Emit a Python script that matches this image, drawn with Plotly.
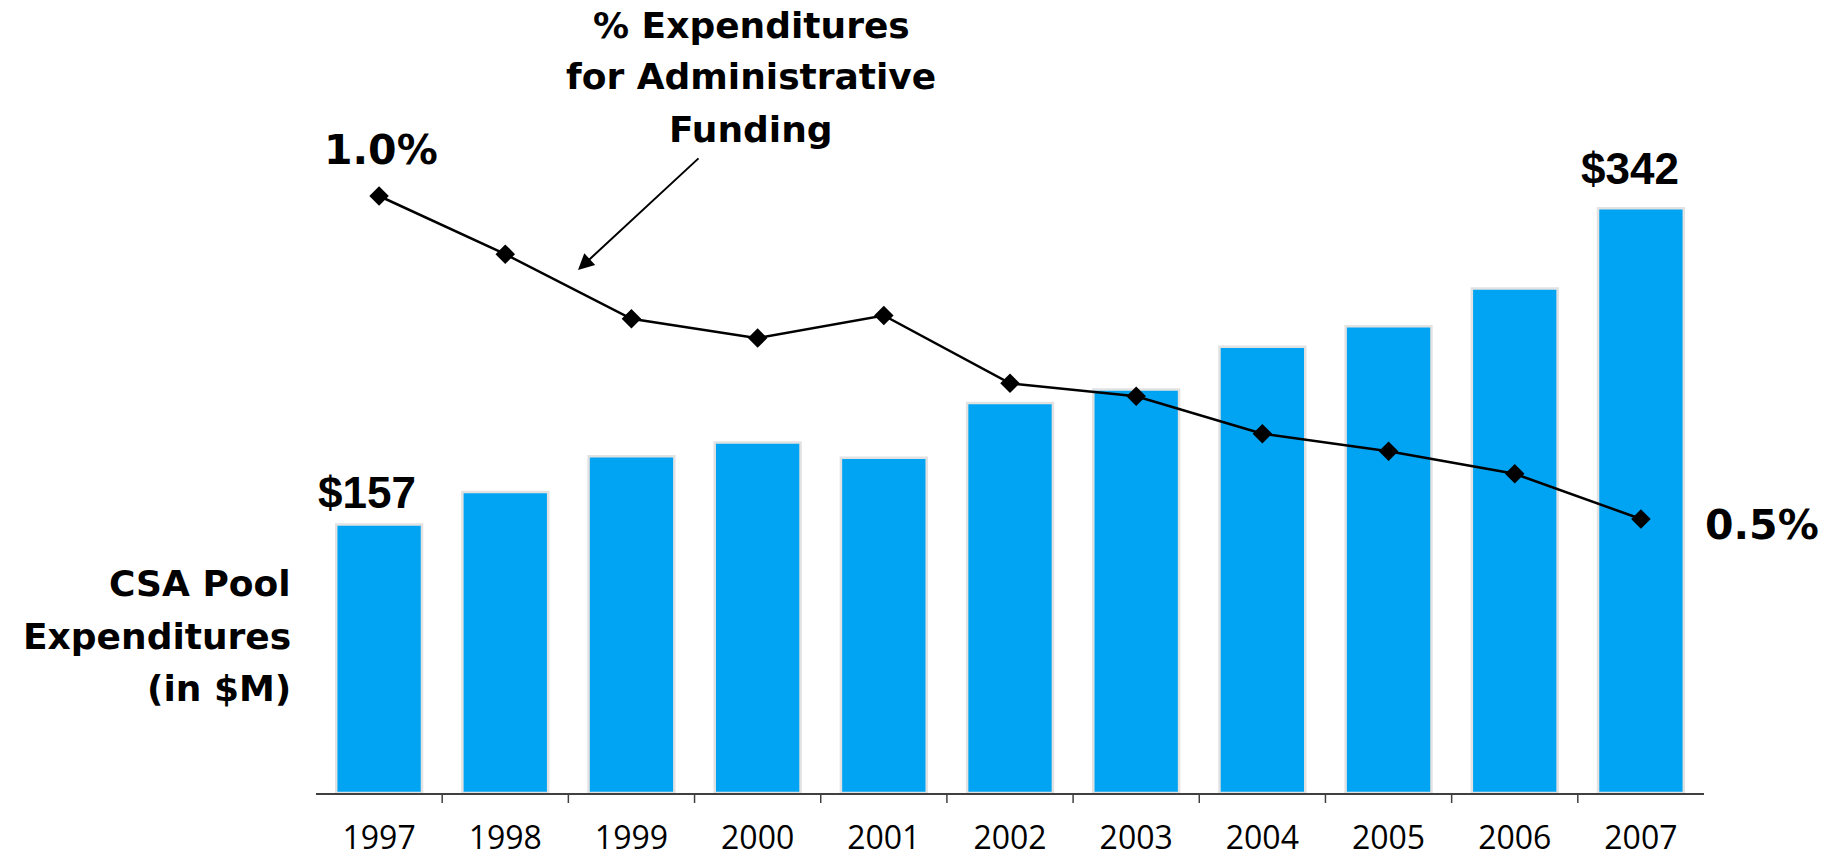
import plotly.graph_objects as go

# CSA pool expenditures ($M) and share spent on administrative funding (%)
years = ["1997", "1998", "1999", "2000", "2001", "2002", "2003", "2004", "2005", "2006", "2007"]
pool_expenditures = [157, 176, 197, 205, 196, 228, 236, 261, 273, 295, 342]
admin_pct = [1.0, 0.91, 0.81, 0.78, 0.815, 0.71, 0.69, 0.632, 0.605, 0.57, 0.5]

W, H = 1841, 862
L, R, T, B = 316, 137, 0, 69
plot_h = H - T - B
px_per_m = 1.71               # pixels per $M on the bar axis
px_per_pct = 646              # pixels per percentage point on the line axis
pct_low = admin_pct[-1] - 274 / px_per_pct

BLUE = "#00A4F2"
AXIS = "#404040"
BOLD = "DejaVu Sans"
first, last = 0, len(years) - 1   # category indices for annotation anchors

fig = go.Figure()
fig.add_trace(go.Bar(
    x=years, y=pool_expenditures, width=0.68,
    marker=dict(color=BLUE, line=dict(color="#E2E2E2", width=2.5)),
    yaxis="y", hoverinfo="skip",
))
fig.add_trace(go.Scatter(
    x=years, y=admin_pct, yaxis="y2", mode="lines+markers",
    line=dict(color="black", width=2.5),
    marker=dict(symbol="diamond", size=15, color="black"),
    cliponaxis=False, hoverinfo="skip",
))

annotations = [
    dict(x=first, y=pool_expenditures[first], xref="x", yref="y",
         text=f"<b>${pool_expenditures[first]}</b>", xshift=-12, yshift=32,
         font=dict(family="Liberation Sans", size=44, color="black")),
    dict(x=last, y=pool_expenditures[last], xref="x", yref="y",
         text=f"<b>${pool_expenditures[last]}</b>", xshift=-11, yshift=40,
         font=dict(family="Liberation Sans", size=44, color="black")),
    dict(x=first, y=admin_pct[first], xref="x", yref="y2",
         text=f"<b>{admin_pct[first]:.1f}%</b>", xshift=2, yshift=46,
         font=dict(family=BOLD, size=41, color="black")),
    dict(x=last, y=admin_pct[last], xref="x", yref="y2",
         text=f"<b>{admin_pct[last]:.1f}%</b>", xshift=121, yshift=-6,
         font=dict(family=BOLD, size=41, color="black")),
]
for a in annotations:
    a.update(showarrow=False, xanchor="center", yanchor="middle")


def paper_x(px):
    return (px - L) / (W - L - R)


def paper_y(py):
    return (H - B - py) / plot_h


# line-series title, one annotation per line
for text, cy in [("% Expenditures", 25), ("for Administrative", 77), ("Funding", 129)]:
    annotations.append(dict(
        x=paper_x(751), y=paper_y(cy), xref="paper", yref="paper",
        text=f"<b>{text}</b>", showarrow=False, xanchor="center", yanchor="middle",
        font=dict(family=BOLD, size=36, color="black"),
    ))

# bar-series title, right aligned
for text, cy in [("CSA Pool", 583), ("Expenditures", 636), ("(in $M)", 688)]:
    annotations.append(dict(
        x=paper_x(293), y=paper_y(cy), xref="paper", yref="paper",
        text=f"<b>{text}</b>", showarrow=False, xanchor="right", yanchor="middle",
        font=dict(family=BOLD, size=36, color="black"),
    ))

# arrow pointing from the title to the line
annotations.append(dict(
    x=paper_x(578), y=paper_y(270), xref="paper", yref="paper",
    ax=700 - 578, ay=157 - 270, axref="pixel", ayref="pixel",
    text="", showarrow=True, arrowhead=2, arrowsize=1.6, arrowwidth=2,
    arrowcolor="black", standoff=0,
))

# tick marks only between neighbouring categories (no ticks at the axis ends)
tick_len = 10 / plot_h
shapes = [
    dict(type="line", xref="x", yref="paper", x0=i + 0.5, x1=i + 0.5,
         y0=0, y1=-tick_len, line=dict(color=AXIS, width=1.5))
    for i in range(len(years) - 1)
]

fig.update_layout(
    width=W, height=H,
    margin=dict(l=L, r=R, t=T, b=B, autoexpand=False),
    paper_bgcolor="white", plot_bgcolor="white",
    showlegend=False,
    xaxis=dict(
        type="category", automargin=False,
        range=[-0.5, len(years) - 0.5], tickangle=0,
        ticks="outside", ticklen=10, tickcolor="rgba(0,0,0,0)",
        showline=True, linecolor=AXIS, linewidth=2,
        showgrid=False, zeroline=False,
        tickfont=dict(family="Open Sans", size=32, color="black"),
        ticklabelstandoff=6,
    ),
    yaxis=dict(range=[0, plot_h / px_per_m], visible=False, showgrid=False),
    yaxis2=dict(range=[pct_low, pct_low + plot_h / px_per_pct], overlaying="y",
                visible=False, showgrid=False),
    annotations=annotations,
    shapes=shapes,
)

fig.write_html("out.html")
